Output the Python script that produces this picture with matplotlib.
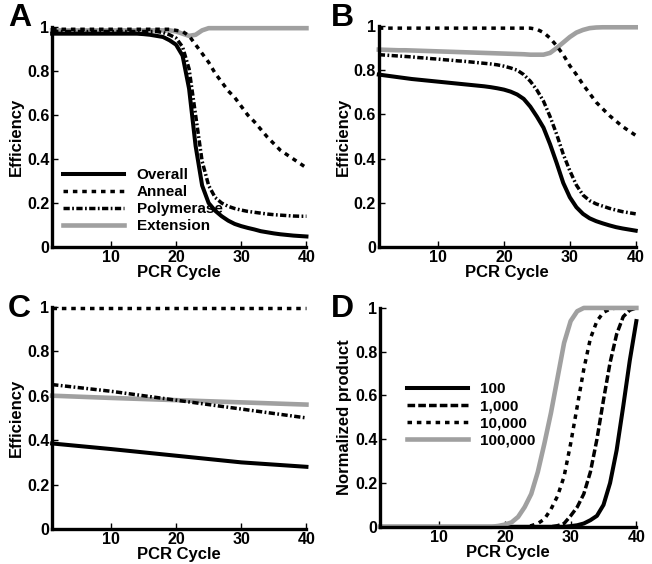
import matplotlib.pyplot as plt

plt.rcParams['font.family'] = ['Liberation Sans', 'DejaVu Sans']
plt.rcParams['font.weight'] = 'bold'

cycles = list(range(1, 41))
gray = '#a0a0a0'

# Panel A
a_overall = [0.97] * 14 + [0.968, 0.965, 0.96, 0.955, 0.94, 0.92, 0.87, 0.72, 0.46, 0.28,
             0.20, 0.165, 0.14, 0.12, 0.105, 0.095, 0.087, 0.08, 0.072, 0.067,
             0.062, 0.058, 0.055, 0.052, 0.05, 0.048]
a_anneal = [0.99] * 19 + [0.985, 0.98, 0.96, 0.92, 0.88, 0.84, 0.79, 0.75, 0.71, 0.68, 0.64,
            0.60, 0.57, 0.535, 0.50, 0.47, 0.44, 0.42, 0.40, 0.38, 0.36]
a_poly = [0.98] * 17 + [0.975, 0.965, 0.95, 0.91, 0.81, 0.60, 0.39, 0.28, 0.225, 0.20, 0.185,
          0.175, 0.168, 0.162, 0.158, 0.154, 0.15, 0.147, 0.145, 0.143, 0.141, 0.14, 0.14]
a_ext = [0.985] * 19 + [0.98, 0.97, 0.96, 0.965, 0.985] + [0.995] * 16

# Panel B
b_overall = [0.78, 0.776, 0.772, 0.768, 0.764, 0.76, 0.757, 0.754, 0.751, 0.748,
             0.745, 0.742, 0.739, 0.736, 0.733, 0.73, 0.727, 0.723, 0.718, 0.712,
             0.703, 0.69, 0.67, 0.635, 0.59, 0.54, 0.465, 0.38, 0.29, 0.225,
             0.18, 0.15, 0.13, 0.117, 0.107, 0.098, 0.09, 0.084, 0.079, 0.074]
b_anneal = [0.99] * 24 + [0.985, 0.97, 0.945, 0.91, 0.87, 0.82, 0.78, 0.735, 0.695, 0.655,
            0.625, 0.595, 0.57, 0.545, 0.525, 0.505]
b_poly = [0.87, 0.868, 0.866, 0.864, 0.862, 0.86, 0.857, 0.855, 0.852, 0.85,
          0.847, 0.845, 0.842, 0.84, 0.837, 0.834, 0.831, 0.828, 0.824, 0.818,
          0.81, 0.80, 0.78, 0.75, 0.71, 0.66, 0.59, 0.51, 0.42, 0.345,
          0.28, 0.235, 0.21, 0.195, 0.185, 0.175, 0.167, 0.16, 0.155, 0.15]
b_ext = [0.893, 0.892, 0.891, 0.89, 0.89, 0.889, 0.888, 0.887, 0.886, 0.885,
         0.884, 0.883, 0.882, 0.881, 0.88, 0.879, 0.878, 0.877, 0.876, 0.875,
         0.874, 0.873, 0.872, 0.87, 0.87, 0.87, 0.878, 0.90, 0.925, 0.95,
         0.97, 0.982, 0.99, 0.993, 0.994, 0.994, 0.994, 0.994, 0.994, 0.994]

# Panel C
c_cycles = [1, 10, 20, 30, 40]
c_overall = [0.385, 0.36, 0.33, 0.30, 0.28]
c_anneal = [0.995, 0.995, 0.995, 0.995, 0.995]
c_poly = [0.65, 0.62, 0.58, 0.54, 0.50]
c_ext = [0.60, 0.59, 0.58, 0.57, 0.56]

# Panel D
d_100 = [0.0] * 29 + [0.003, 0.007, 0.015, 0.03, 0.05, 0.10, 0.20, 0.35, 0.55, 0.76, 0.94]
d_1000 = [0.0] * 27 + [0.005, 0.015, 0.05, 0.09, 0.15, 0.25, 0.40, 0.58, 0.75, 0.88, 0.96, 0.99, 1.0]
d_10000 = [0.0] * 23 + [0.005, 0.015, 0.035, 0.08, 0.14, 0.23, 0.38, 0.55, 0.72, 0.86, 0.94,
           0.98, 0.995, 1.0, 1.0, 1.0, 1.0]
d_100000 = [0.0] * 18 + [0.004, 0.01, 0.02, 0.045, 0.09, 0.15, 0.25, 0.38, 0.52, 0.68, 0.84,
            0.94, 0.985] + [1.0] * 9

fig = plt.figure(figsize=(6.52, 5.64), dpi=100)
ax_a = fig.add_axes([0.080, 0.562, 0.390, 0.390])
ax_b = fig.add_axes([0.581, 0.562, 0.394, 0.392])
ax_c = fig.add_axes([0.080, 0.062, 0.390, 0.394])
ax_d = fig.add_axes([0.583, 0.066, 0.393, 0.388])

lw = 2.5
dot = (0, (1.3, 1.4))
dashdot = (0, (1.8, 0.7, 0.5, 0.7))
dash = (0, (2.2, 0.9))


def eff_lines(ax, x, overall, anneal, poly, ext):
    ax.plot(x, ext, color=gray, lw=lw + 0.8, label='Extension')
    ax.plot(x, anneal, color='black', lw=lw, linestyle=dot, label='Anneal')
    ax.plot(x, poly, color='black', lw=lw, linestyle=dashdot, label='Polymerase')
    ax.plot(x, overall, color='black', lw=lw + 0.4, label='Overall')


eff_lines(ax_a, cycles, a_overall, a_anneal, a_poly, a_ext)
eff_lines(ax_b, cycles, b_overall, b_anneal, b_poly, b_ext)
eff_lines(ax_c, c_cycles, c_overall, c_anneal, c_poly, c_ext)

ax_d.plot(cycles, d_100, color='black', lw=lw + 0.4, label='100')
ax_d.plot(cycles, d_1000, color='black', lw=lw, linestyle=dash, label='1,000')
ax_d.plot(cycles, d_10000, color='black', lw=lw, linestyle=dot, label='10,000')
ax_d.plot(cycles, d_100000, color=gray, lw=lw + 0.8, label='100,000')

for ax in [ax_a, ax_b, ax_c, ax_d]:
    ax.set_xlim(1, 40)
    ax.set_ylim(0, 1)
    ax.set_xticks([10, 20, 30, 40])
    ax.set_yticks([0, 0.2, 0.4, 0.6, 0.8, 1])
    ax.set_yticklabels(['0', '0.2', '0.4', '0.6', '0.8', '1'])
    ax.spines['top'].set_visible(False)
    ax.spines['right'].set_visible(False)
    ax.spines['left'].set_linewidth(2.4)
    ax.spines['bottom'].set_linewidth(2.4)
    ax.tick_params(direction='in', length=4, width=1, labelsize=11.5, pad=2)
    for lab in ax.get_xticklabels() + ax.get_yticklabels():
        lab.set_fontweight('bold')
    ax.set_xlabel('PCR Cycle', fontsize=12, fontweight='bold', labelpad=0)
    ax.set_ylabel('Efficiency', fontsize=12, fontweight='bold', labelpad=2)
    for line in ax.get_lines():
        line.set_clip_on(False)

ax_d.set_ylabel('Normalized product', fontsize=12, fontweight='bold', labelpad=2)

h, l = ax_a.get_legend_handles_labels()
order = [3, 1, 2, 0]
ax_a.legend([h[i] for i in order], [l[i] for i in order], loc='lower left',
            bbox_to_anchor=(-0.01, 0.0), frameon=False, handlelength=4.0,
            handletextpad=0.8, labelspacing=0.2, prop={'weight': 'bold', 'size': 11})
ax_d.legend(loc='lower left', bbox_to_anchor=(0.05, 0.3), frameon=False,
            handlelength=4.0, handletextpad=0.8, labelspacing=0.2,
            prop={'weight': 'bold', 'size': 11})

for txt, x, y in [('A', 0.012, 0.995), ('B', 0.508, 0.995), ('C', 0.012, 0.478), ('D', 0.508, 0.478)]:
    fig.text(x, y, txt, fontsize=23, fontweight='bold', va='top', ha='left')

plt.savefig('out.png', dpi=100)
